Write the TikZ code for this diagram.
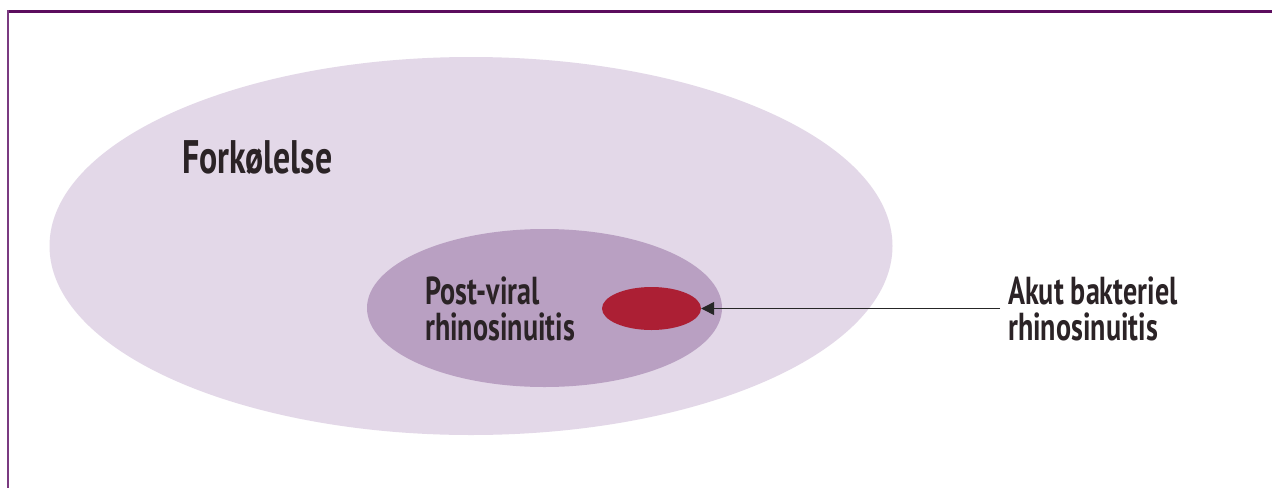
\documentclass[tikz,border=0pt]{standalone}
\usepackage{fontspec}
\newfontfamily\lblfont[FakeStretch=0.72]{PT Sans}
\usetikzlibrary{arrows.meta,shapes.geometric}
\definecolor{frame}{HTML}{5C0D5E}
\definecolor{frameleft}{HTML}{7A3A80}
\definecolor{outerc}{HTML}{E3D8E8}
\definecolor{midc}{HTML}{B9A0C2}
\definecolor{redc}{HTML}{AC1F34}
\definecolor{txt}{HTML}{2B2326}
\tikzset{
  lbl/.style={inner sep=0pt, anchor=base west, align=left, text=txt,
    font=\lblfont\bfseries\fontsize{39}{36}\selectfont},
  biglbl/.style={inner sep=0pt, anchor=base west, text=txt,
    font=\lblfont\bfseries\fontsize{47}{47}\selectfont},
  blob/.style={ellipse, draw=none, inner sep=0pt}
}
\begin{document}
\begin{tikzpicture}[x=1pt,y=-1pt]
\useasboundingbox (0,0) rectangle (1272,488);
\fill[white] (0,0) rectangle (1272,488);
% frame
\draw[frame, line width=3.2pt] (7,11.5) -- (1272,11.5);
\draw[frameleft, line width=2pt] (8.3,10) -- (8.3,488);
% ellipses
\node[blob, fill=outerc, minimum width=843pt, minimum height=378pt] (outer) at (471,246) {};
\node[blob, fill=midc, minimum width=355pt, minimum height=158pt] (mid) at (544.5,308) {};
\node[blob, fill=redc, minimum width=99pt, minimum height=43pt] (red) at (651.5,308.5) {};
% labels (base anchor = baseline of last line)
\node[biglbl] (fork) at (182,173) {Forkølelse};
\node[lbl] (post) at (425,340) {Post-viral\\rhinosinuitis};
\node[lbl] (akut) at (1008,340) {Akut bakteriel\\rhinosinuitis};
\coordinate (astart) at (1000,308.5);
\draw[-{Triangle[length=13pt,width=13pt]}, line width=1.3pt, draw=black!85] (astart) -- (red.east);
\end{tikzpicture}
\end{document}
